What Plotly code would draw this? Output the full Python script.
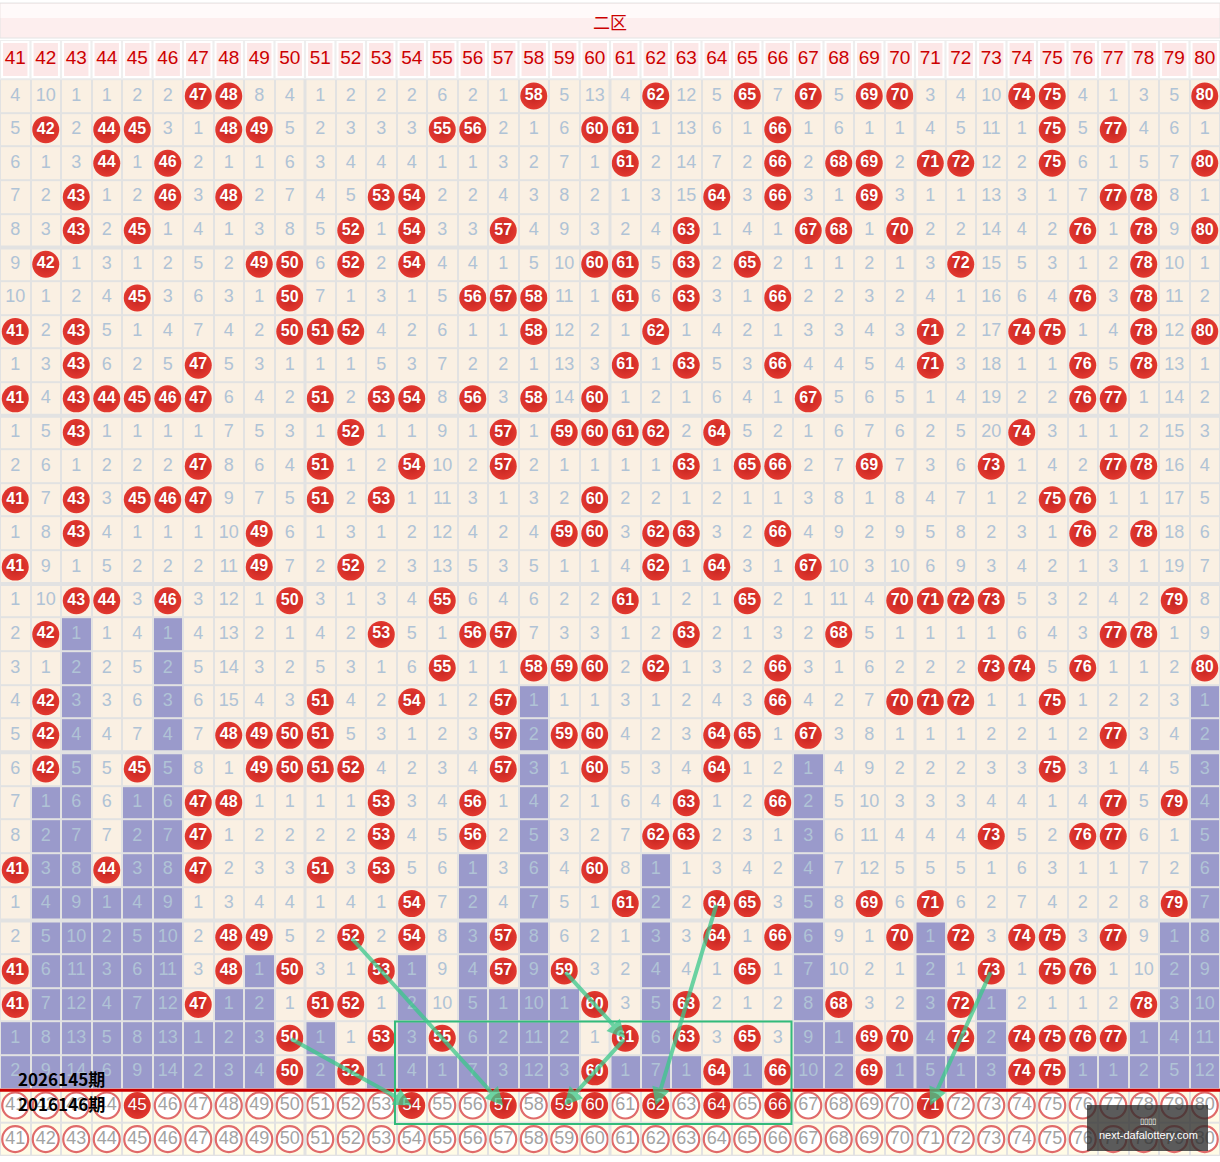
import plotly.graph_objects as go

# ---------------- data ----------------
section_title = "二区"
cols = list(range(41, 81))
# omission values per draw (0 = drawn number, shown as red ball)
rows = [
    [4,10,1,1,2,2,0,0,8,4, 1,2,2,2,6,2,1,0,5,13, 4,0,12,5,0,7,0,5,0,0, 3,4,10,0,0,4,1,3,5,0],
    [5,0,2,0,0,3,1,0,0,5, 2,3,3,3,0,0,2,1,6,0, 0,1,13,6,1,0,1,6,1,1, 4,5,11,1,0,5,0,4,6,1],
    [6,1,3,0,1,0,2,1,1,6, 3,4,4,4,1,1,3,2,7,1, 0,2,14,7,2,0,2,0,0,2, 0,0,12,2,0,6,1,5,7,0],
    [7,2,0,1,2,0,3,0,2,7, 4,5,0,0,2,2,4,3,8,2, 1,3,15,0,3,0,3,1,0,3, 1,1,13,3,1,7,0,0,8,1],
    [8,3,0,2,0,1,4,1,3,8, 5,0,1,0,3,3,0,4,9,3, 2,4,0,1,4,1,0,0,1,0, 2,2,14,4,2,0,1,0,9,0],
    [9,0,1,3,1,2,5,2,0,0, 6,0,2,0,4,4,1,5,10,0, 0,5,0,2,0,2,1,1,2,1, 3,0,15,5,3,1,2,0,10,1],
    [10,1,2,4,0,3,6,3,1,0, 7,1,3,1,5,0,0,0,11,1, 0,6,0,3,1,0,2,2,3,2, 4,1,16,6,4,0,3,0,11,2],
    [0,2,0,5,1,4,7,4,2,0, 0,0,4,2,6,1,1,0,12,2, 1,0,1,4,2,1,3,3,4,3, 0,2,17,0,0,1,4,0,12,0],
    [1,3,0,6,2,5,0,5,3,1, 1,1,5,3,7,2,2,1,13,3, 0,1,0,5,3,0,4,4,5,4, 0,3,18,1,1,0,5,0,13,1],
    [0,4,0,0,0,0,0,6,4,2, 0,2,0,0,8,0,3,0,14,0, 1,2,1,6,4,1,0,5,6,5, 1,4,19,2,2,0,0,1,14,2],
    [1,5,0,1,1,1,1,7,5,3, 1,0,1,1,9,1,0,1,0,0, 0,0,2,0,5,2,1,6,7,6, 2,5,20,0,3,1,1,2,15,3],
    [2,6,1,2,2,2,0,8,6,4, 0,1,2,0,10,2,0,2,1,1, 1,1,0,1,0,0,2,7,0,7, 3,6,0,1,4,2,0,0,16,4],
    [0,7,0,3,0,0,0,9,7,5, 0,2,0,1,11,3,1,3,2,0, 2,2,1,2,1,1,3,8,1,8, 4,7,1,2,0,0,1,1,17,5],
    [1,8,0,4,1,1,1,10,0,6, 1,3,1,2,12,4,2,4,0,0, 3,0,0,3,2,0,4,9,2,9, 5,8,2,3,1,0,2,0,18,6],
    [0,9,1,5,2,2,2,11,0,7, 2,0,2,3,13,5,3,5,1,1, 4,0,1,0,3,1,0,10,3,10, 6,9,3,4,2,1,3,1,19,7],
    [1,10,0,0,3,0,3,12,1,0, 3,1,3,4,0,6,4,6,2,2, 0,1,2,1,0,2,1,11,4,0, 0,0,0,5,3,2,4,2,0,8],
    [2,0,1,1,4,1,4,13,2,1, 4,2,0,5,1,0,0,7,3,3, 1,2,0,2,1,3,2,0,5,1, 1,1,1,6,4,3,0,0,1,9],
    [3,1,2,2,5,2,5,14,3,2, 5,3,1,6,0,1,1,0,0,0, 2,0,1,3,2,0,3,1,6,2, 2,2,0,0,5,0,1,1,2,0],
    [4,0,3,3,6,3,6,15,4,3, 0,4,2,0,1,2,0,1,1,1, 3,1,2,4,3,0,4,2,7,0, 0,0,1,1,0,1,2,2,3,1],
    [5,0,4,4,7,4,7,0,0,0, 0,5,3,1,2,3,0,2,0,0, 4,2,3,0,0,1,0,3,8,1, 1,1,2,2,1,2,0,3,4,2],
    [6,0,5,5,0,5,8,1,0,0, 0,0,4,2,3,4,0,3,1,0, 5,3,4,0,1,2,1,4,9,2, 2,2,3,3,0,3,1,4,5,3],
    [7,1,6,6,1,6,0,0,1,1, 1,1,0,3,4,0,1,4,2,1, 6,4,0,1,2,0,2,5,10,3, 3,3,4,4,1,4,0,5,0,4],
    [8,2,7,7,2,7,0,1,2,2, 2,2,0,4,5,0,2,5,3,2, 7,0,0,2,3,1,3,6,11,4, 4,4,0,5,2,0,0,6,1,5],
    [0,3,8,0,3,8,0,2,3,3, 0,3,0,5,6,1,3,6,4,0, 8,1,1,3,4,2,4,7,12,5, 5,5,1,6,3,1,1,7,2,6],
    [1,4,9,1,4,9,1,3,4,4, 1,4,1,0,7,2,4,7,5,1, 0,2,2,0,0,3,5,8,0,6, 0,6,2,7,4,2,2,8,0,7],
    [2,5,10,2,5,10,2,0,0,5, 2,0,2,0,8,3,0,8,6,2, 1,3,3,0,1,0,6,9,1,0, 1,0,3,0,0,3,0,9,1,8],
    [0,6,11,3,6,11,3,0,1,0, 3,1,0,1,9,4,0,9,0,3, 2,4,4,1,0,1,7,10,2,1, 2,1,0,1,0,0,1,10,2,9],
    [0,7,12,4,7,12,0,1,2,1, 0,0,1,2,10,5,1,10,1,0, 3,5,0,2,1,2,8,0,3,2, 3,0,1,2,1,1,2,0,3,10],
    [1,8,13,5,8,13,1,2,3,0, 1,1,0,3,0,6,2,11,2,1, 0,6,0,3,0,3,9,1,0,0, 4,0,2,0,0,0,0,1,4,11],
    [2,9,14,6,9,14,2,3,4,0, 2,0,1,4,1,7,3,12,3,0, 1,7,1,0,1,0,10,2,0,1, 5,1,3,0,0,1,1,2,5,12],
]
period_labels = ["2026145期", "2016146期"]
next_row_hits = [45, 54, 57, 59, 60, 62, 64, 66, 71]
# green links: (from col, from row, to col, to row); row 31 = prediction row
links = [(52, 26, 57, 31), (50, 29, 54, 31), (59, 27, 61, 29),
         (61, 29, 59, 31), (64, 25, 62, 31), (73, 27, 71, 31)]
box_cols = (54, 66)
box_rows = (29, 31)
watermark = "next-dafalottery.com"

# ---------------- layout geometry (row units) ----------------
W, H = 1220, 1162
RH = 33.65          # px per row
ROW1 = 96.0         # px center of first data row
def ry(px):
    return 1 + (px - ROW1) / RH
y_top, y_bot = ry(0), ry(H)
nrows = len(rows)
A_ROW, B_ROW = nrows + 1, nrows + 2

FONT = "Arial, Liberation Sans, sans-serif"
BEIGE = "#faf0e3"
PURPLE = "#9a9acb"
GRID = "#e2e2e2"
MISS_COL = "#b0c3d6"
RED = "#d8302b"

# purple (trailing omission) flags
last_hit = []
for c in range(len(cols)):
    last_hit.append(max(i for i in range(nrows) if rows[i][c] == 0))
z = [[1 if r > last_hit[c] else 0 for c in range(len(cols))] for r in range(nrows)]

fig = go.Figure()

fig.add_trace(go.Heatmap(
    x=cols, y=list(range(1, nrows + 1)), z=z, zmin=0, zmax=1,
    colorscale=[[0, BEIGE], [0.5, BEIGE], [0.5, PURPLE], [1, PURPLE]],
    showscale=False, xgap=2, ygap=2, hoverinfo="skip"))

fig.add_trace(go.Heatmap(
    x=cols, y=[A_ROW, B_ROW], z=[[0] * len(cols), [0] * len(cols)], zmin=0, zmax=1,
    colorscale=[[0, "#fffbe6"], [1, "#fffbe6"]],
    showscale=False, xgap=2, ygap=2, hoverinfo="skip"))

# omission numbers
mx, my, mt = [], [], []
hx, hy, ht = [], [], []
for r in range(nrows):
    for c, col in enumerate(cols):
        v = rows[r][c]
        if v == 0:
            hx.append(col); hy.append(r + 1); ht.append(str(col))
        else:
            mx.append(col); my.append(r + 1); mt.append(str(v))

fig.add_trace(go.Scatter(
    x=mx, y=my, text=mt, mode="text", hoverinfo="skip",
    textfont=dict(family=FONT, size=18, color=MISS_COL)))

fig.add_trace(go.Scatter(
    x=hx, y=hy, text=ht, mode="markers+text", hoverinfo="skip",
    marker=dict(size=27, color="#e3382f", line=dict(width=0),
                gradient=dict(type="radial", color="#c22420")),
    textfont=dict(family=FONT, size=16, color="white", weight="bold")))

# header numbers
fig.add_trace(go.Scatter(
    x=cols, y=[ry(59)] * len(cols), text=[str(c) for c in cols], mode="text",
    hoverinfo="skip", textfont=dict(family=FONT, size=19, color="#cc0000")))

# bottom rows
bx, by, bt = [], [], []
for col in cols:
    if col not in next_row_hits:
        bx.append(col); by.append(A_ROW); bt.append(str(col))
    bx.append(col); by.append(B_ROW); bt.append(str(col))
fig.add_trace(go.Scatter(
    x=bx, y=by, text=bt, mode="markers+text", hoverinfo="skip",
    marker=dict(size=26, color="white", line=dict(width=2.2, color="#e06a6a")),
    textfont=dict(family=FONT, size=18, color="#a3a3a3")))
fig.add_trace(go.Scatter(
    x=next_row_hits, y=[A_ROW] * len(next_row_hits),
    text=[str(c) for c in next_row_hits], mode="markers+text", hoverinfo="skip",
    marker=dict(size=27, color="#e3382f", line=dict(width=0),
                gradient=dict(type="radial", color="#c22420")),
    textfont=dict(family=FONT, size=17, color="white")))

shapes = []
x0, x1 = cols[0] - 0.5, cols[-1] + 0.5
# grid background
shapes.append(dict(type="rect", layer="below", x0=x0, x1=x1, y0=0.5, y1=B_ROW + 0.5,
                   fillcolor=GRID, line=dict(width=0)))
# title band
shapes.append(dict(type="rect", layer="below", x0=x0, x1=x1, y0=ry(3), y1=ry(38),
                   fillcolor="#fdeeee", line=dict(width=1, color="#e4e4e4")))
shapes.append(dict(type="rect", layer="below", x0=x0 + 0.02, x1=x1 - 0.02, y0=ry(4), y1=ry(18),
                   fillcolor="#fffafa", line=dict(width=0)))
# header row
shapes.append(dict(type="rect", layer="below", x0=x0, x1=x1, y0=ry(40), y1=ry(79),
                   fillcolor="#eeeeee", line=dict(width=0)))
for col in cols:
    shapes.append(dict(type="rect", layer="below", x0=col - 0.5 + 0.035, x1=col + 0.5 - 0.035,
                       y0=ry(41), y1=ry(78), fillcolor="white", line=dict(width=0)))
    shapes.append(dict(type="rect", layer="below", x0=col - 0.5 + 0.1, x1=col + 0.5 - 0.1,
                       y0=ry(43), y1=ry(76), fillcolor="#fce7e7", line=dict(width=0)))
# group separators
for g in range(5, nrows, 5):
    shapes.append(dict(type="line", x0=x0, x1=x1, y0=g + 0.5, y1=g + 0.5,
                       line=dict(width=4, color=GRID)))
for g in (50.5, 60.5, 70.5):
    shapes.append(dict(type="line", x0=g, x1=g, y0=0.5, y1=B_ROW + 0.5,
                       line=dict(width=3, color=GRID)))
# red divider
shapes.append(dict(type="line", x0=x0, x1=x1, y0=nrows + 0.55, y1=nrows + 0.55,
                   line=dict(width=3, color="#cc0000")))
# green box
shapes.append(dict(type="rect", x0=box_cols[0] - 0.55, x1=box_cols[1] + 0.45,
                   y0=box_rows[0] - 0.5, y1=box_rows[1] + 0.55,
                   line=dict(width=2, color="#33bb7a"), fillcolor="rgba(0,0,0,0)"))
# watermark
shapes.append(dict(type="rect", x0=x0 + 1087 / 30.5, x1=x0 + 1208 / 30.5, y0=ry(1105), y1=ry(1151),
                   fillcolor="rgba(45,45,45,0.78)", line=dict(width=0)))

annotations = [
    dict(x=(x0 + x1) / 2, y=ry(21), text=section_title, showarrow=False,
         font=dict(family="Noto Sans CJK SC", size=17, color="#cc0000")),
    dict(x=x0 + 1148 / 30.5, y=ry(1135), text=watermark, showarrow=False,
         font=dict(family=FONT, size=11, color="white")),
    dict(x=x0 + 1148 / 30.5, y=ry(1121), text="▯▯▯▯", showarrow=False,
         font=dict(family=FONT, size=8, color="white")),
]
for i, lab in enumerate(period_labels):
    annotations.append(dict(x=x0 + 16 / 30.5, y=ry(1078 + 25 * i), text="<b>%s</b>" % lab,
                            showarrow=False, xanchor="left",
                            font=dict(family="Noto Sans CJK SC", size=17, color="black")))
for (c0, r0, c1, r1) in links:
    annotations.append(dict(x=c1, y=r1, ax=c0, ay=r0, xref="x", yref="y", axref="x", ayref="y",
                            text="", showarrow=True, arrowhead=2, arrowsize=0.9, arrowwidth=4,
                            arrowcolor="rgba(60,200,140,0.75)", standoff=0, startstandoff=0))

fig.update_layout(
    width=W, height=H, margin=dict(l=0, r=0, t=0, b=0),
    paper_bgcolor="white", plot_bgcolor="white", showlegend=False,
    xaxis=dict(range=[x0, x1], visible=False, fixedrange=True),
    yaxis=dict(range=[y_bot, y_top], visible=False, fixedrange=True),
    shapes=shapes, annotations=annotations)

fig.write_html("out.html")
